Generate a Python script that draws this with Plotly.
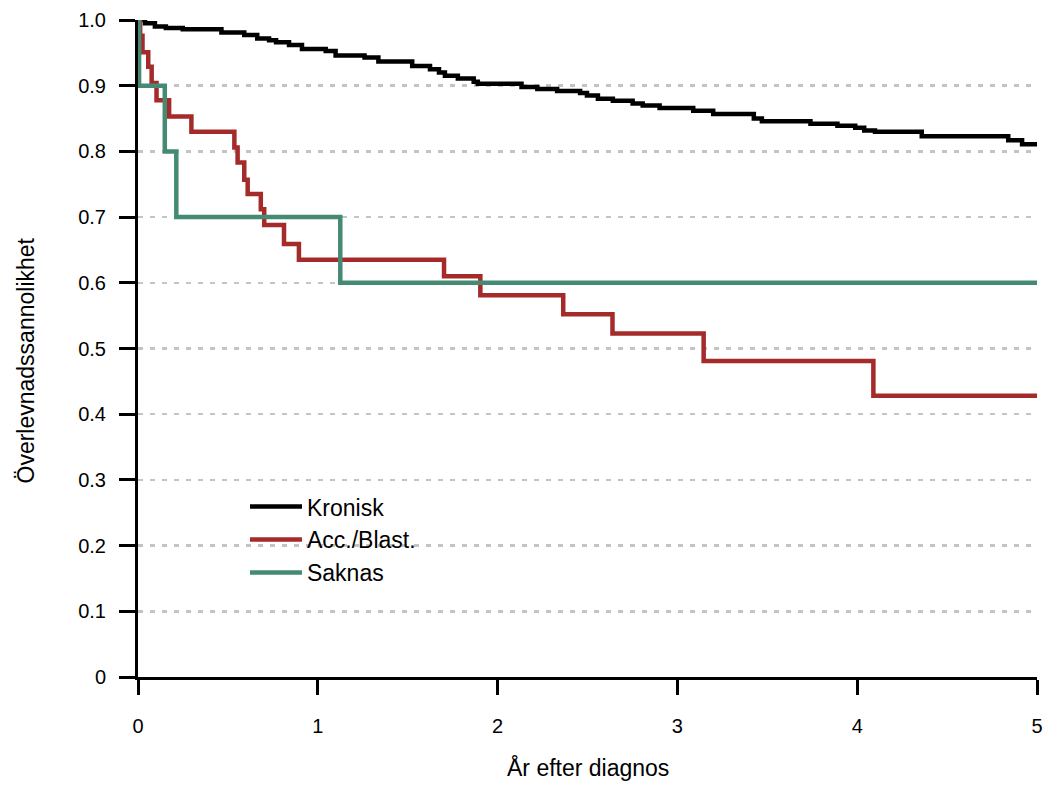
import plotly.graph_objects as go

# ---- data ----
kronisk_t = [0, 0.039, 0.094, 0.155, 0.249, 0.464, 0.591, 0.663, 0.729, 0.768, 0.840, 0.912,
             1.044, 1.099, 1.260, 1.337, 1.525, 1.624, 1.674, 1.707, 1.779, 1.867, 1.890,
             2.133, 2.221, 2.331, 2.459, 2.497, 2.558, 2.641, 2.751, 2.807, 2.901,
             3.088, 3.199, 3.425, 3.470, 3.740, 3.890, 3.989, 4.039, 4.099, 4.359,
             4.840, 4.917, 5.0]
kronisk_s = [1.0, 0.995, 0.990, 0.988, 0.986, 0.981, 0.977, 0.972, 0.969, 0.966, 0.962, 0.956,
             0.953, 0.946, 0.943, 0.937, 0.930, 0.925, 0.920, 0.915, 0.911, 0.906, 0.903,
             0.898, 0.895, 0.892, 0.889, 0.885, 0.880, 0.877, 0.873, 0.870, 0.866,
             0.862, 0.857, 0.850, 0.846, 0.842, 0.839, 0.836, 0.832, 0.830, 0.823,
             0.817, 0.811, 0.811]

acc_t = [0, 0.012, 0.025, 0.057, 0.076, 0.103, 0.173, 0.297, 0.536, 0.554, 0.591, 0.610,
         0.683, 0.702, 0.812, 0.895, 1.702, 1.904, 2.365, 2.639, 3.146, 4.090, 5.0]
acc_s = [1.0, 0.976, 0.951, 0.929, 0.904, 0.878, 0.853, 0.830, 0.806, 0.783, 0.757, 0.735,
         0.712, 0.688, 0.659, 0.635, 0.610, 0.581, 0.552, 0.523, 0.481, 0.428, 0.428]

saknas_t = [0, 0.006, 0.149, 0.213, 1.125, 5.0]
saknas_s = [1.0, 0.9, 0.8, 0.7, 0.6, 0.6]

series_names = ["Kronisk", "Acc./Blast.", "Saknas"]
series_colors = ["#000000", "#A52A2A", "#458B74"]

x_ticks = [0, 1, 2, 3, 4, 5]
y_ticks = [0, 0.1, 0.2, 0.3, 0.4, 0.5, 0.6, 0.7, 0.8, 0.9, 1.0]
y_ticktext = ["0", "0.1", "0.2", "0.3", "0.4", "0.5", "0.6", "0.7", "0.8", "0.9", "1.0"]

x_title = "År efter diagnos"
y_title = "Överlevnadssannolikhet"

FONT = "Liberation Sans, Arial, sans-serif"

fig = go.Figure()
for name, color, t, s in zip(series_names, series_colors,
                             [kronisk_t, acc_t, saknas_t],
                             [kronisk_s, acc_s, saknas_s]):
    fig.add_trace(go.Scatter(x=t, y=s, mode="lines", name=name, legendgroup=name,
                             line=dict(color=color, width=4.5, shape="hv"),
                             hoverinfo="skip"))

axis_common = dict(showline=True, linecolor="black", linewidth=3,
                   ticks="outside", tickcolor="black", tickwidth=3,
                   tickfont=dict(family=FONT, size=20, color="black"),
                   zeroline=False, layer="below traces")

fig.update_layout(
    width=1052, height=810,
    margin=dict(l=138, r=9, t=18, b=133),
    paper_bgcolor="white", plot_bgcolor="white",
    showlegend=True,
    legend=dict(x=0.119, y=0.292, xanchor="left", yanchor="top",
                font=dict(family=FONT, size=23, color="black"),
                bgcolor="rgba(0,0,0,0)", borderwidth=0,
                tracegroupgap=0, itemwidth=52),
    xaxis=dict(range=[0, 5], tickvals=x_ticks, ticklen=15, showgrid=False,
               ticklabelstandoff=14, **axis_common),
    yaxis=dict(range=[0, 1], tickvals=y_ticks, ticktext=y_ticktext, ticklen=16,
               showgrid=True, gridcolor="#C4C4C4", gridwidth=2.5, griddash="5px,7px",
               ticklabelstandoff=9, **axis_common),
    annotations=[
        dict(text=x_title, xref="paper", yref="paper", x=0.5, y=0, xanchor="center",
             yanchor="middle", yshift=-90, showarrow=False,
             font=dict(family=FONT, size=23, color="black")),
        dict(text=y_title, xref="paper", yref="paper", x=0, y=0.5, xanchor="center",
             yanchor="middle", xshift=-113, yshift=-12, textangle=-90, showarrow=False,
             font=dict(family=FONT, size=23, color="black")),
    ],
)

# remove the default 8px body margin of the page so the figure sits at (0, 0)
fig.write_html("out.html",
               config={"displayModeBar": False, "staticPlot": True},
               post_script="document.body.style.margin='0';document.body.style.overflow='hidden';")
